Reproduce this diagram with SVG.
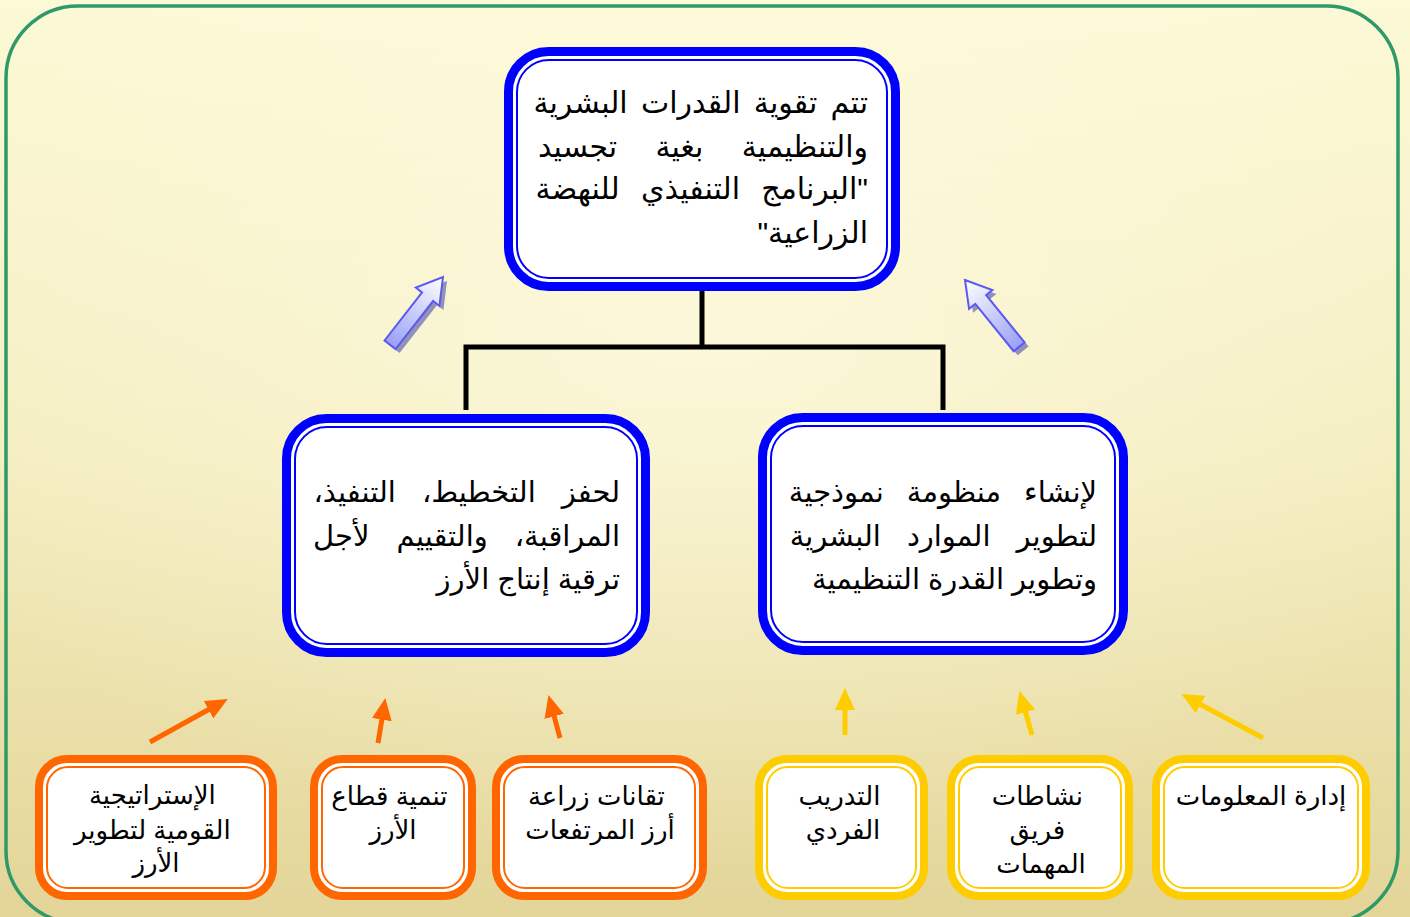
<svg xmlns="http://www.w3.org/2000/svg" width="1410" height="917" viewBox="0 0 1410 917">
<style>
.t{font-family:"Liberation Sans","DejaVu Sans",sans-serif;fill:#000}
.big{font-size:30px}
.mid{font-size:29px}
.small{font-size:26px}
.blo{fill:#fff;stroke:#0000ff;stroke-width:9}
.bli{fill:none;stroke:#0000ff;stroke-width:2}
.oro{fill:#fff;stroke:#ff6600;stroke-width:8}
.ori{fill:none;stroke:#ff6600;stroke-width:2}
.yeo{fill:#fff;stroke:#ffcc00;stroke-width:8}
.yei{fill:none;stroke:#ffcc00;stroke-width:2}
.conn{fill:none;stroke:#000;stroke-width:5}
.oa{stroke:#ff6600;stroke-width:5;fill:none;marker-end:url(#ho)}
.ya{stroke:#ffcc00;stroke-width:5;fill:none;marker-end:url(#hy)}
.barrow{fill:url(#ag);stroke:#5a5af0;stroke-width:2}
.bshadow{fill:#6f70b0;opacity:0.75}
</style>
<defs>
<linearGradient id="bg" x1="0" y1="0" x2="0" y2="1">
<stop offset="0" stop-color="#fcf9d6"/>
<stop offset="0.5" stop-color="#f4edbf"/>
<stop offset="1" stop-color="#e3d598"/>
</linearGradient>
<radialGradient id="glow" cx="0.5" cy="0.35" r="0.6">
<stop offset="0" stop-color="#fffce6" stop-opacity="0.6"/>
<stop offset="1" stop-color="#fffce6" stop-opacity="0"/>
</radialGradient>
<linearGradient id="ag" x1="0" y1="0" x2="0" y2="1">
<stop offset="0" stop-color="#ffffff"/>
<stop offset="1" stop-color="#9aa0f5"/>
</linearGradient>
<marker id="ho" markerUnits="userSpaceOnUse" markerWidth="22" markerHeight="20" viewBox="0 0 22 20" refX="8" refY="10" orient="auto">
<path d="M0,0 L22,10 L0,20 Z" fill="#ff6600"/>
</marker>
<marker id="hy" markerUnits="userSpaceOnUse" markerWidth="22" markerHeight="20" viewBox="0 0 22 20" refX="8" refY="10" orient="auto">
<path d="M0,0 L22,10 L0,20 Z" fill="#ffcc00"/>
</marker>
<polygon id="bigarrow" points="0,0 15,25 7,25 7,86 -7,86 -7,25 -15,25"/>
</defs>

<g id="background">
<rect x="0" y="0" width="1410" height="917" fill="url(#bg)"/>
<rect x="0" y="0" width="1410" height="917" fill="url(#glow)"/>
<rect x="6" y="6" width="1392" height="917" rx="72" ry="72" fill="none" stroke="#2f9a68" stroke-width="3.5"/>
</g>

<g id="connectors">
<path class="conn" d="M702,291 V347 M466,410 V347 H943 V410"/>
<g id="arrow-left-big">
<use href="#bigarrow" class="bshadow" transform="translate(447,281) rotate(38)"/>
<use href="#bigarrow" class="barrow" transform="translate(443,277) rotate(38)"/>
</g>
<g id="arrow-right-big">
<use href="#bigarrow" class="bshadow" transform="translate(969,284) rotate(-39)"/>
<use href="#bigarrow" class="barrow" transform="translate(965,280) rotate(-39)"/>
</g>
<line class="oa" x1="150" y1="742" x2="215.5" y2="705.8"/>
<line class="oa" x1="378" y1="743" x2="383.1" y2="711.8"/>
<line class="oa" x1="560" y1="738" x2="552.1" y2="708.6"/>
<line class="ya" x1="845" y1="735" x2="845" y2="702"/>
<line class="ya" x1="1032" y1="735" x2="1023.3" y2="704.5"/>
<line class="ya" x1="1263" y1="738" x2="1193.6" y2="700.7"/>
</g>

<g id="node-top">
<rect class="blo" x="508.5" y="51.5" width="387" height="235" rx="40"/>
<rect class="bli" x="517" y="60" width="370" height="218" rx="32"/>
<text class="t big" direction="rtl" text-anchor="start">
<tspan x="868" y="113" word-spacing="5">تتم تقوية القدرات البشرية</tspan>
<tspan x="868" y="157" word-spacing="30">والتنظيمية بغية تجسيد</tspan>
<tspan x="868" y="199" word-spacing="13">"البرنامج التنفيذي للنهضة</tspan>
<tspan x="868" y="243">الزراعية"</tspan>
</text>
</g>

<g id="node-mid-left">
<rect class="blo" x="286.5" y="418.5" width="359" height="234" rx="40"/>
<rect class="bli" x="295" y="427" width="342" height="217" rx="32"/>
<text class="t mid" direction="rtl" text-anchor="start">
<tspan x="620" y="502" word-spacing="18">لحفز التخطيط، التنفيذ،</tspan>
<tspan x="620" y="546" word-spacing="19">المراقبة، والتقييم لأجل</tspan>
<tspan x="620" y="589">ترقية إنتاج الأرز</tspan>
</text>
</g>

<g id="node-mid-right">
<rect class="blo" x="762.5" y="417.5" width="361" height="233" rx="40"/>
<rect class="bli" x="771" y="426" width="344" height="216" rx="32"/>
<text class="t mid" direction="rtl" text-anchor="start">
<tspan x="1097" y="502" word-spacing="15">لإنشاء منظومة نموذجية</tspan>
<tspan x="1097" y="546" word-spacing="18">لتطوير الموارد البشرية</tspan>
<tspan x="1097" y="589">وتطوير القدرة التنظيمية</tspan>
</text>
</g>

<g id="node-strategy">
<rect class="oro" x="39" y="759" width="234" height="137" rx="28"/>
<rect class="ori" x="47" y="767" width="218" height="121" rx="21"/>
<text class="t small" text-anchor="middle">
<tspan x="156" y="804">الإستراتيجية</tspan>
<tspan x="156" y="839">القومية لتطوير</tspan>
<tspan x="156" y="872">الأرز</tspan>
</text>
</g>

<g id="node-sector">
<rect class="oro" x="314" y="759" width="158" height="137" rx="28"/>
<rect class="ori" x="322" y="767" width="142" height="121" rx="21"/>
<text class="t small" text-anchor="middle">
<tspan x="393" y="805">تنمية قطاع</tspan>
<tspan x="393" y="839">الأرز</tspan>
</text>
</g>

<g id="node-techniques">
<rect class="oro" x="496" y="759" width="207" height="137" rx="28"/>
<rect class="ori" x="504" y="767" width="191" height="121" rx="21"/>
<text class="t small" text-anchor="middle">
<tspan x="600" y="805">تقانات زراعة</tspan>
<tspan x="600" y="839">أرز المرتفعات</tspan>
</text>
</g>

<g id="node-training">
<rect class="yeo" x="759" y="759" width="165" height="137" rx="28"/>
<rect class="yei" x="767" y="767" width="149" height="121" rx="21"/>
<text class="t small" text-anchor="middle">
<tspan x="843" y="805">التدريب</tspan>
<tspan x="843" y="839">الفردي</tspan>
</text>
</g>

<g id="node-taskforce">
<rect class="yeo" x="951" y="759" width="178" height="137" rx="28"/>
<rect class="yei" x="959" y="767" width="162" height="121" rx="21"/>
<text class="t small" text-anchor="middle">
<tspan x="1041" y="805">نشاطات</tspan>
<tspan x="1041" y="839">فريق</tspan>
<tspan x="1041" y="873">المهمات</tspan>
</text>
</g>

<g id="node-info">
<rect class="yeo" x="1156" y="759" width="210" height="137" rx="28"/>
<rect class="yei" x="1164" y="767" width="194" height="121" rx="21"/>
<text class="t small" text-anchor="middle">
<tspan x="1261" y="805">إدارة المعلومات</tspan>
</text>
</g>
</svg>
